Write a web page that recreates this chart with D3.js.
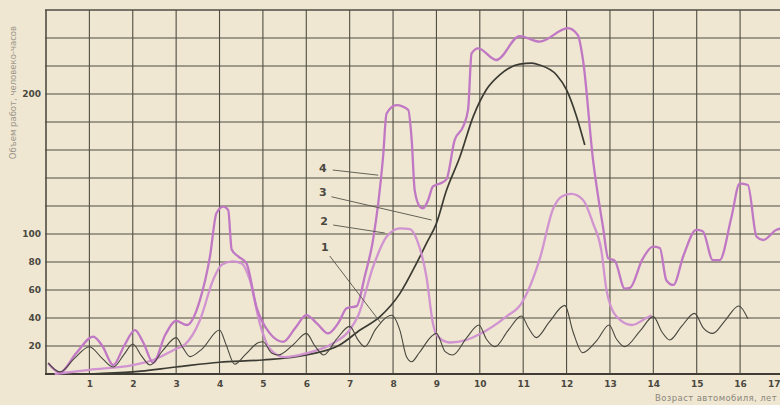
<!DOCTYPE html>
<html>
<head>
<meta charset="utf-8">
<script src="https://cdn.jsdelivr.net/npm/d3@7/dist/d3.min.js"></script>
<style>
  html, body { margin: 0; padding: 0; background: #efe7d2; }
  svg { display: block; }
  text { font-family: "DejaVu Sans", "Noto Sans", sans-serif; }
</style>
</head>
<body>
<svg id="chart" width="780" height="405"></svg>
<script>
// ---- Data (age in years, work volume in man-hours) ----
const xTicks = [1,2,3,4,5,6,7,8,9,10,11,12,13,14,15,16,17];
const yTickLabels = [20,40,60,80,100,200];
const yGrid = [20,40,60,80,100,120,140,160,180,200,220,240,260];

// curve 1: thin dark oscillating
const series1 = [
  [0.05,8],[0.32,1.5],[0.65,11],[1.0,19.5],[1.3,11],[1.55,5],[1.8,14],[2.0,21.4],[2.2,13],[2.4,6.4],[2.7,17],[3.0,26],[3.15,19],[3.32,12.4],[3.6,18],[4.0,31.4],[4.15,21],[4.35,7],[4.6,14],[4.9,22.5],[5.0,23],[5.2,15],[5.35,13.6],[5.7,21],[6.0,29],[6.2,20],[6.4,13.6],[6.7,25],[7.0,34],[7.2,24],[7.35,19.5],[7.6,32],[7.97,42],[8.16,31],[8.31,12.4],[8.43,8.8],[8.6,15],[8.89,27],[9.0,29],[9.2,16],[9.38,13.6],[9.7,26],[9.98,35],[10.15,25],[10.35,19.5],[10.65,31],[10.96,41.4],[11.12,33],[11.3,26],[11.6,37],[11.96,49],[12.15,30],[12.37,15.2],[12.7,24],[12.98,35],[13.15,25],[13.34,19.5],[13.7,31],[14.0,41],[14.2,30],[14.38,24.3],[14.65,34],[14.95,43.3],[15.15,33],[15.37,29],[15.65,38],[15.97,48.6],[16.18,39.5]
];

// curve 2: magenta smooth
const series2 = [
  [0.2,0],[1.0,3],[2.0,6.4],[2.47,10],[3.0,18],[3.2,21],[3.55,38.6],[3.85,67],[4.05,78],[4.3,80.5],[4.51,79],[4.7,67],[4.93,36],[5.16,18],[5.5,12],[6.0,14.8],[6.62,22],[7.0,31.4],[7.2,42],[7.54,76.6],[7.85,98],[8.16,104],[8.39,103.5],[8.58,93.3],[8.77,69.5],[8.92,36],[9.0,28],[9.3,22.5],[9.69,24.3],[10.0,28.5],[10.61,41],[10.96,50.5],[11.38,82],[11.69,118],[11.9,127],[12.11,128.6],[12.38,124.3],[12.61,107.6],[12.8,88.6],[12.92,60],[13.15,41],[13.5,35],[13.84,40],[13.96,42]
];

// curve 3: dark smooth
const series3 = [
  [1.0,0],[2.0,1.5],[3.0,5],[4.0,8.4],[5.0,10],[6.0,13.6],[6.77,20.7],[7.24,31.4],[7.7,41],[8.16,57.6],[8.54,79],[8.77,93.3],[9.0,107.6],[9.23,131],[9.54,155],[9.85,184],[10.15,203],[10.46,213.6],[10.92,221.4],[11.2,222],[11.38,220.7],[11.77,213.6],[12.0,203],[12.23,184],[12.42,163.6]
];

// curve 4: magenta high
const series4 = [
  [0.05,7.6],[0.32,1],[0.7,15],[1.09,26.7],[1.3,20],[1.55,6.4],[1.8,20],[2.05,31.4],[2.25,22],[2.47,8],[2.75,28],[3.0,38],[3.25,35],[3.55,53],[3.78,84],[3.93,115],[4.09,119.5],[4.2,117],[4.28,89],[4.43,84],[4.62,79],[4.85,48],[5.16,29],[5.47,23],[5.75,33],[6.0,42],[6.25,36],[6.5,29],[6.75,37],[6.93,47],[7.16,48.5],[7.35,70],[7.54,96],[7.77,155],[7.85,186],[8.08,192],[8.35,188.6],[8.43,167],[8.5,131],[8.62,119.5],[8.69,118.3],[8.81,124.3],[8.92,134],[9.08,136],[9.23,139],[9.42,167],[9.62,177],[9.73,189],[9.81,229],[9.96,232.6],[10.38,224.3],[10.92,241.4],[11.38,237.4],[12.03,247],[12.26,242],[12.38,224],[12.61,153],[12.84,105],[12.96,82.6],[13.11,81],[13.34,61],[13.46,61.5],[13.75,82],[13.99,91],[14.15,90],[14.3,67],[14.46,63.6],[14.7,85],[14.99,103],[15.14,102],[15.37,81.4],[15.53,81.4],[15.8,112],[15.99,136],[16.18,135],[16.38,98],[16.53,95.7],[16.84,103],[16.95,104]
];

// curve labels with leader lines (data coordinates)
const annotations = [
  {label:"4", at:[6.38,147], from:[6.61,145.7], to:[7.66,142]},
  {label:"3", at:[6.38,129.3], from:[6.58,126.6], to:[8.89,110]},
  {label:"2", at:[6.41,108.6], from:[6.62,106.4], to:[7.81,100.7]},
  {label:"1", at:[6.43,90.7], from:[6.54,84.3], to:[7.72,36.4]}
];

const yTitle = "Объем работ, человеко-часов";
const xTitle = "Возраст автомобиля, лет";

// ---- Drawing ----
const svg = d3.select("#chart");
const x = d3.scaleLinear().domain([0, 16.92]).range([46, 780]);
const y = d3.scaleLinear().domain([0, 260]).range([374, 10]);
const gridColor = "#4f4d43";

// grid
svg.append("g").selectAll("line.h").data(yGrid).join("line")
  .attr("x1", x(0) - 1).attr("x2", 780)
  .attr("y1", d => y(d)).attr("y2", d => y(d))
  .attr("stroke", gridColor).attr("stroke-width", d => d === 260 ? 1.4 : 1.2);
svg.append("g").selectAll("line.v").data(xTicks).join("line")
  .attr("x1", d => x(d)).attr("x2", d => x(d))
  .attr("y1", y(260)).attr("y2", y(0))
  .attr("stroke", gridColor).attr("stroke-width", 1.1);

// axes via d3 axis generators
const xAxis = d3.axisBottom(x).tickValues(xTicks).tickSize(0).tickPadding(7).tickFormat(d3.format("d"));
const gx = svg.append("g").attr("transform", `translate(0,${y(0)})`).call(xAxis);
gx.select(".domain").remove();
gx.selectAll("text").attr("fill", "#4a4840").attr("font-size", 9).attr("font-weight", "bold");
// last label sits at the right edge: keep it inside the picture
gx.selectAll(".tick").filter(d => d === 17).select("text").attr("text-anchor", "end").attr("x", 780 - x(17));

const yAxis = d3.axisLeft(y).tickValues(yTickLabels).tickSize(0).tickPadding(5);
const gy = svg.append("g").attr("transform", `translate(${x(0)},0)`).call(yAxis);
gy.select(".domain").remove();
gy.selectAll("text").attr("fill", "#4a4840").attr("font-size", 9).attr("font-weight", "bold");

// frame
svg.append("line").attr("x1", x(0)).attr("x2", x(0)).attr("y1", y(260)).attr("y2", y(0))
  .attr("stroke", gridColor).attr("stroke-width", 1.6);
svg.append("line").attr("x1", x(0) - 1).attr("x2", 780).attr("y1", y(0)).attr("y2", y(0))
  .attr("stroke", "#3f3d35").attr("stroke-width", 2.2);

// curves
const line = d3.line().x(d => x(d[0])).y(d => y(d[1])).curve(d3.curveMonotoneX);
svg.append("path").datum(series3).attr("d", line)
  .attr("fill", "none").attr("stroke", "#3c3b33").attr("stroke-width", 1.7);
svg.append("path").datum(series2).attr("d", line)
  .attr("fill", "none").attr("stroke", "#cf8fd0").attr("stroke-width", 2.3).attr("stroke-opacity", 0.95);
svg.append("path").datum(series4).attr("d", line)
  .attr("fill", "none").attr("stroke", "#c077c4").attr("stroke-width", 2.3);
svg.append("path").datum(series1).attr("d", line)
  .attr("fill", "none").attr("stroke", "#47463d").attr("stroke-width", 1.1);

// annotations
const ga = svg.append("g");
ga.selectAll("line").data(annotations).join("line")
  .attr("x1", d => x(d.from[0])).attr("y1", d => y(d.from[1]))
  .attr("x2", d => x(d.to[0])).attr("y2", d => y(d.to[1]))
  .attr("stroke", "#55534a").attr("stroke-width", 0.9);
ga.selectAll("text").data(annotations).join("text")
  .attr("x", d => x(d.at[0])).attr("y", d => y(d.at[1]))
  .attr("text-anchor", "middle").attr("dominant-baseline", "central")
  .attr("font-size", 11).attr("font-weight", "bold").attr("fill", "#4a4840")
  .text(d => d.label);

// titles
svg.append("text")
  .attr("transform", `translate(16,${y(201)}) rotate(-90)`)
  .attr("text-anchor", "middle").attr("font-size", 8.5).attr("fill", "#9c978a")
  .text(yTitle);
svg.append("text")
  .attr("x", 777).attr("y", 401).attr("text-anchor", "end")
  .attr("font-size", 8.5).attr("fill", "#8a867a").attr("letter-spacing", 0.4)
  .text(xTitle);
</script>
</body>
</html>
